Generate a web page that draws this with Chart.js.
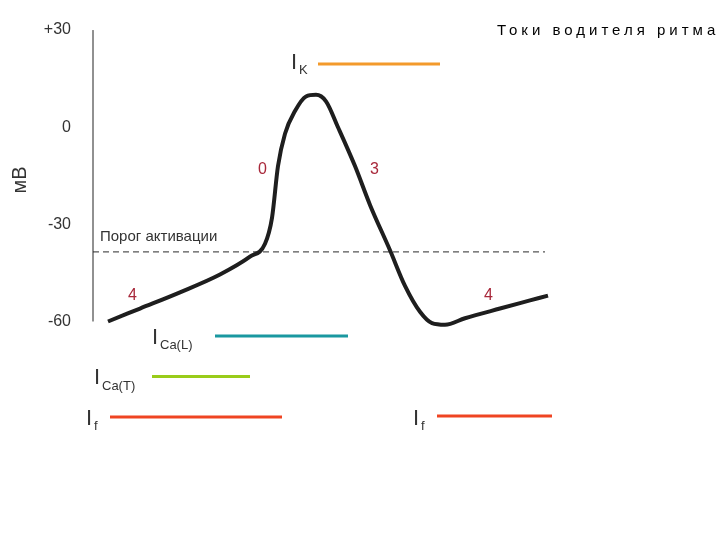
<!DOCTYPE html>
<html><head><meta charset="utf-8">
<script src="https://cdn.jsdelivr.net/npm/chart.js@4.4.0/dist/chart.umd.min.js"></script>
<style>body{margin:0;background:#fff}#wrap{width:720px;height:540px}</style>
</head><body><div id="wrap"><canvas id="c"></canvas></div>
<script>
// time in arbitrary units, potential in mV
const apTime = [108,140,180,220,250,265,272,278,285,295,306,316,326,338,355,370,390,405,420,432,445,465,500,530,548];
const apMv   = [-60,-56,-51,-45.5,-40,-36,-28,-12,-2,5,9.5,10,8,0,-12,-24,-38,-49,-57,-60.5,-61,-59,-56,-53.5,-52];
const yTicks = [30, 0, -30, -60];
const threshold = -38.5;
const currents = [
  { name: 'K',     sub: 'K',     from: 318, to: 440, level: 19.5,  color: '#f39a2b', lx: 291, ly: 20 },
  { name: 'CaL',   sub: 'Ca(L)', from: 215, to: 348, level: -64.5, color: '#1a98a0', lx: 152, ly: -65 },
  { name: 'CaT',   sub: 'Ca(T)', from: 152, to: 250, level: -77,   color: '#99cc1a', lx: 94,  ly: -77.5 },
  { name: 'f1',    sub: 'f',     from: 110, to: 282, level: -89.5, color: '#ef4422', lx: 86,  ly: -90 },
  { name: 'f2',    sub: 'f',     from: 437, to: 552, level: -89.2, color: '#ef4422', lx: 413, ly: -90 }
];
const phases = [ ['0', 258, -13], ['3', 370, -13], ['4', 128, -52], ['4', 484, -52] ];

const datasets = [{
  data: apTime.map((t, i) => ({ x: t, y: apMv[i] })),
  borderColor: '#1e1e1e', borderWidth: 4, tension: 0.4, pointRadius: 0, cubicInterpolationMode: 'monotone'
}, {
  data: [{ x: 93, y: threshold }, { x: 545, y: threshold }],
  borderColor: '#555', borderWidth: 1.2, borderDash: [6, 4], pointRadius: 0
}];
currents.forEach(c => datasets.push({
  data: [{ x: c.from, y: c.level }, { x: c.to, y: c.level }],
  borderColor: c.color, borderWidth: 3, pointRadius: 0
}));

const decor = {
  id: 'decor',
  afterDraw(chart) {
    const ctx = chart.ctx, xs = chart.scales.x, ys = chart.scales.y;
    ctx.save();
    ctx.strokeStyle = '#222'; ctx.lineWidth = 1;
    ctx.beginPath();
    ctx.moveTo(xs.getPixelForValue(93), ys.getPixelForValue(30));
    ctx.lineTo(xs.getPixelForValue(93), ys.getPixelForValue(-60));
    ctx.stroke();
    ctx.textBaseline = 'middle';
    currents.forEach(c => {
      const px = xs.getPixelForValue(c.lx), py = ys.getPixelForValue(c.ly);
      ctx.fillStyle = '#333';
      ctx.font = '22px "Liberation Sans", Arial';
      ctx.fillText('I', px, py);
      ctx.font = '13px "Liberation Sans", Arial';
      ctx.fillText(c.sub, px + 8, py + 8);
    });
    ctx.fillStyle = '#a8283a';
    ctx.font = '16px "Liberation Sans", Arial';
    phases.forEach(p => ctx.fillText(p[0], xs.getPixelForValue(p[1]), ys.getPixelForValue(p[2])));
    ctx.fillStyle = '#333';
    ctx.font = '15px "Liberation Sans", Arial';
    ctx.fillText('Порог активации', xs.getPixelForValue(100), ys.getPixelForValue(-34));
    ctx.fillStyle = '#333';
    ctx.font = '20px "Liberation Sans", Arial';
    ctx.translate(20, 180); ctx.rotate(-Math.PI / 2);
    ctx.textAlign = 'center';
    ctx.fillText('мВ', 0, 0);
    ctx.setTransform(1, 0, 0, 1, 0, 0);
    ctx.restore();
    ctx.save();
    ctx.fillStyle = '#000';
    ctx.textBaseline = 'middle';
    ctx.font = '15px "Liberation Sans", Arial';
    ctx.letterSpacing = '4px';
    ctx.fillText('Токи водителя ритма', 497, 31);
    ctx.restore();
  }
};

new Chart(document.getElementById('c'), {
  type: 'line',
  data: { datasets },
  options: {
    responsive: true, maintainAspectRatio: false, animation: false,
    layout: { padding: { top: 0, bottom: 89, right: 0, left: 0 } },
    plugins: { legend: { display: false }, tooltip: { enabled: false } },
    scales: {
      x: { type: 'linear', min: 93, max: 720, display: false },
      y: {
        min: -100, max: 32,
        grid: { display: false }, border: { display: false },
        afterBuildTicks: s => { s.ticks = yTicks.map(v => ({ value: v })); },
        afterFit: s => { s.width = 93; },
        ticks: { color: '#333', font: { size: 16, family: '"Liberation Sans", Arial' }, padding: 14,
          callback: v => v > 0 ? '+' + v : String(v) }
      }
    }
  },
  plugins: [decor]
});
</script></body></html>
